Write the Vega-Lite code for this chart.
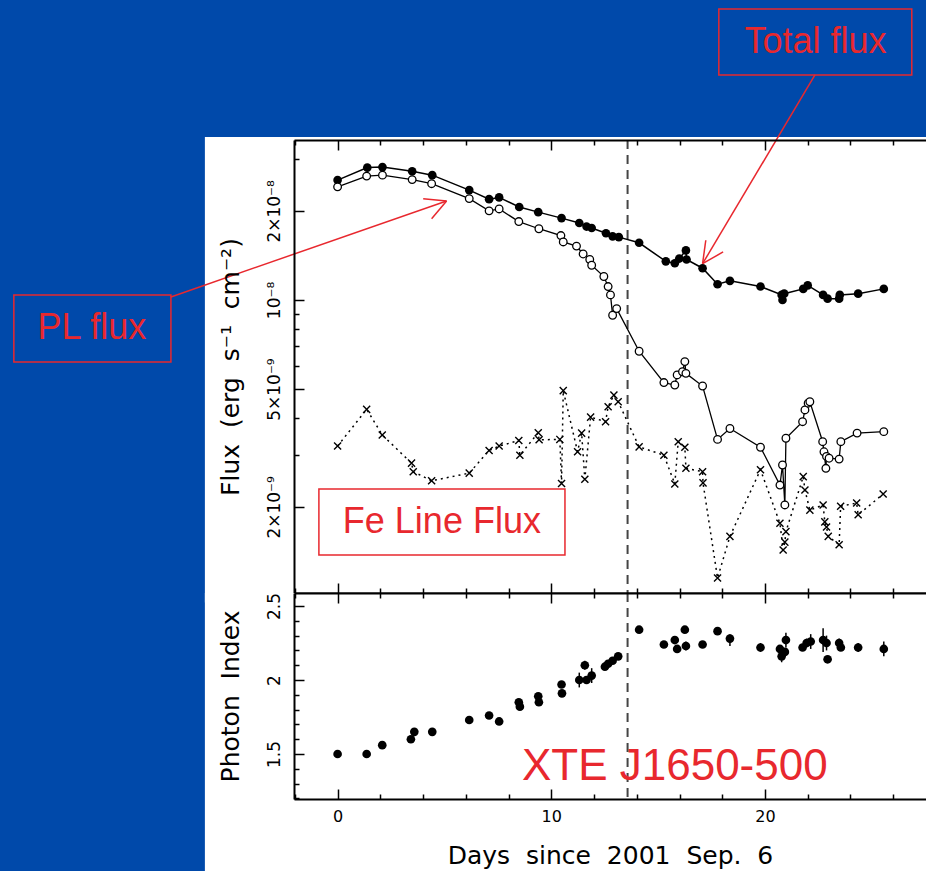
{
  "$schema": "https://vega.github.io/schema/vega-lite/v6.json",
  "background": "#0049AA",
  "padding": {"left": 13, "top": 8, "right": 0, "bottom": 0},
  "autosize": {"type": "pad"},
  "spacing": 0,
  "bounds": "flush",
  "resolve": {"scale": {"x": "independent", "y": "independent"}},
  "datasets": {
    "total_flux": [
      {"day": 0.00, "flux": 2.54e-8}, {"day": 1.39, "flux": 2.80e-8}, {"day": 2.10, "flux": 2.81e-8},
      {"day": 3.49, "flux": 2.72e-8}, {"day": 4.43, "flux": 2.64e-8}, {"day": 6.16, "flux": 2.35e-8},
      {"day": 7.09, "flux": 2.19e-8}, {"day": 7.56, "flux": 2.22e-8}, {"day": 8.50, "flux": 2.06e-8},
      {"day": 9.39, "flux": 1.98e-8}, {"day": 10.48, "flux": 1.89e-8}, {"day": 11.31, "flux": 1.82e-8},
      {"day": 11.65, "flux": 1.77e-8}, {"day": 11.89, "flux": 1.75e-8}, {"day": 12.56, "flux": 1.68e-8},
      {"day": 12.87, "flux": 1.64e-8}, {"day": 13.16, "flux": 1.63e-8}, {"day": 14.11, "flux": 1.56e-8},
      {"day": 15.36, "flux": 1.35e-8}, {"day": 15.78, "flux": 1.33e-8}, {"day": 15.99, "flux": 1.38e-8},
      {"day": 16.30, "flux": 1.47e-8}, {"day": 16.33, "flux": 1.37e-8}, {"day": 17.08, "flux": 1.28e-8},
      {"day": 17.78, "flux": 1.13e-8}, {"day": 18.36, "flux": 1.16e-8}, {"day": 19.79, "flux": 1.11e-8},
      {"day": 20.78, "flux": 1.04e-8}, {"day": 20.82, "flux": 1.00e-8}, {"day": 20.90, "flux": 1.05e-8},
      {"day": 21.79, "flux": 1.09e-8}, {"day": 22.00, "flux": 1.12e-8}, {"day": 22.72, "flux": 1.04e-8},
      {"day": 22.93, "flux": 1.01e-8}, {"day": 23.47, "flux": 1.01e-8}, {"day": 23.50, "flux": 1.04e-8},
      {"day": 24.36, "flux": 1.05e-8}, {"day": 25.56, "flux": 1.09e-8}
    ],
    "pl_flux": [
      {"day": 0.00, "flux": 2.41e-8}, {"day": 1.36, "flux": 2.62e-8}, {"day": 2.10, "flux": 2.64e-8},
      {"day": 3.49, "flux": 2.55e-8}, {"day": 4.40, "flux": 2.47e-8}, {"day": 6.16, "flux": 2.20e-8},
      {"day": 7.09, "flux": 2.00e-8}, {"day": 7.56, "flux": 2.03e-8}, {"day": 8.48, "flux": 1.84e-8},
      {"day": 9.42, "flux": 1.74e-8}, {"day": 10.45, "flux": 1.65e-8}, {"day": 10.56, "flux": 1.57e-8},
      {"day": 11.18, "flux": 1.52e-8}, {"day": 11.49, "flux": 1.43e-8}, {"day": 11.80, "flux": 1.37e-8},
      {"day": 11.89, "flux": 1.31e-8}, {"day": 12.46, "flux": 1.20e-8}, {"day": 12.66, "flux": 1.11e-8},
      {"day": 12.77, "flux": 1.04e-8}, {"day": 12.87, "flux": 8.88e-9}, {"day": 13.06, "flux": 9.35e-9},
      {"day": 14.11, "flux": 6.71e-9}, {"day": 15.27, "flux": 5.26e-9}, {"day": 15.78, "flux": 5.16e-9},
      {"day": 15.89, "flux": 5.58e-9}, {"day": 16.14, "flux": 5.72e-9}, {"day": 16.25, "flux": 6.19e-9},
      {"day": 16.30, "flux": 5.65e-9}, {"day": 17.08, "flux": 5.12e-9}, {"day": 17.78, "flux": 3.38e-9},
      {"day": 18.36, "flux": 3.68e-9}, {"day": 19.79, "flux": 3.18e-9}, {"day": 20.70, "flux": 2.37e-9},
      {"day": 20.82, "flux": 2.77e-9}, {"day": 20.93, "flux": 2.03e-9}, {"day": 20.98, "flux": 3.41e-9},
      {"day": 21.76, "flux": 3.88e-9}, {"day": 21.87, "flux": 4.25e-9}, {"day": 22.02, "flux": 4.48e-9},
      {"day": 22.10, "flux": 4.53e-9}, {"day": 22.70, "flux": 3.32e-9}, {"day": 22.76, "flux": 3.07e-9},
      {"day": 22.85, "flux": 2.70e-9}, {"day": 22.88, "flux": 2.96e-9}, {"day": 23.00, "flux": 2.92e-9},
      {"day": 23.47, "flux": 2.90e-9}, {"day": 23.55, "flux": 3.32e-9}, {"day": 24.31, "flux": 3.55e-9},
      {"day": 25.56, "flux": 3.59e-9}
    ],
    "fe_line_flux": [
      {"day": 0.00, "flux": 3.21e-9}, {"day": 1.36, "flux": 4.27e-9}, {"day": 2.09, "flux": 3.50e-9},
      {"day": 3.46, "flux": 2.81e-9}, {"day": 3.54, "flux": 2.63e-9}, {"day": 4.40, "flux": 2.45e-9},
      {"day": 6.16, "flux": 2.60e-9}, {"day": 7.09, "flux": 3.10e-9}, {"day": 7.56, "flux": 3.21e-9},
      {"day": 8.48, "flux": 3.35e-9}, {"day": 8.53, "flux": 2.99e-9}, {"day": 9.39, "flux": 3.56e-9},
      {"day": 9.43, "flux": 3.37e-9}, {"day": 10.40, "flux": 3.38e-9}, {"day": 10.48, "flux": 2.40e-9},
      {"day": 10.56, "flux": 4.94e-9}, {"day": 11.23, "flux": 3.07e-9}, {"day": 11.42, "flux": 3.55e-9},
      {"day": 11.57, "flux": 2.48e-9}, {"day": 11.84, "flux": 4.02e-9}, {"day": 12.54, "flux": 3.88e-9},
      {"day": 12.66, "flux": 4.36e-9}, {"day": 12.93, "flux": 4.77e-9}, {"day": 13.13, "flux": 4.53e-9},
      {"day": 14.11, "flux": 3.19e-9}, {"day": 15.27, "flux": 2.99e-9}, {"day": 15.78, "flux": 2.39e-9},
      {"day": 15.94, "flux": 3.32e-9}, {"day": 16.25, "flux": 3.18e-9}, {"day": 16.30, "flux": 2.70e-9},
      {"day": 17.08, "flux": 2.63e-9}, {"day": 17.10, "flux": 2.41e-9}, {"day": 17.78, "flux": 1.15e-9},
      {"day": 18.36, "flux": 1.59e-9}, {"day": 19.79, "flux": 2.67e-9}, {"day": 20.70, "flux": 1.76e-9},
      {"day": 20.85, "flux": 1.43e-9}, {"day": 20.93, "flux": 1.52e-9}, {"day": 20.98, "flux": 1.65e-9},
      {"day": 21.79, "flux": 2.53e-9}, {"day": 21.87, "flux": 2.28e-9}, {"day": 22.10, "flux": 1.95e-9},
      {"day": 22.72, "flux": 2.03e-9}, {"day": 22.80, "flux": 1.78e-9}, {"day": 22.88, "flux": 1.71e-9},
      {"day": 22.96, "flux": 1.59e-9}, {"day": 23.47, "flux": 1.49e-9}, {"day": 23.54, "flux": 2.01e-9},
      {"day": 24.29, "flux": 2.06e-9}, {"day": 24.36, "flux": 1.88e-9}, {"day": 25.53, "flux": 2.21e-9}
    ],
    "photon_index": [
      {"day": 0.00, "index": 1.50, "lo": 1.49, "hi": 1.51}, {"day": 1.36, "index": 1.50, "lo": 1.49, "hi": 1.51},
      {"day": 2.09, "index": 1.56, "lo": 1.545, "hi": 1.575}, {"day": 3.43, "index": 1.60, "lo": 1.58, "hi": 1.62},
      {"day": 3.59, "index": 1.65, "lo": 1.63, "hi": 1.67}, {"day": 4.43, "index": 1.65, "lo": 1.64, "hi": 1.66},
      {"day": 6.16, "index": 1.73, "lo": 1.72, "hi": 1.74}, {"day": 7.09, "index": 1.76, "lo": 1.75, "hi": 1.77},
      {"day": 7.56, "index": 1.72, "lo": 1.70, "hi": 1.74}, {"day": 8.48, "index": 1.85, "lo": 1.83, "hi": 1.87},
      {"day": 8.53, "index": 1.82, "lo": 1.81, "hi": 1.83}, {"day": 9.39, "index": 1.89, "lo": 1.87, "hi": 1.91},
      {"day": 9.42, "index": 1.85, "lo": 1.84, "hi": 1.86}, {"day": 10.48, "index": 1.97, "lo": 1.95, "hi": 1.99},
      {"day": 10.50, "index": 1.91, "lo": 1.89, "hi": 1.93}, {"day": 11.31, "index": 2.00, "lo": 1.95, "hi": 2.05},
      {"day": 11.57, "index": 2.10, "lo": 2.07, "hi": 2.13}, {"day": 11.65, "index": 2.00, "lo": 1.98, "hi": 2.02},
      {"day": 11.89, "index": 2.03, "lo": 1.98, "hi": 2.08}, {"day": 12.51, "index": 2.09, "lo": 2.07, "hi": 2.11},
      {"day": 12.66, "index": 2.11, "lo": 2.09, "hi": 2.13}, {"day": 12.87, "index": 2.13, "lo": 2.11, "hi": 2.15},
      {"day": 13.13, "index": 2.16, "lo": 2.14, "hi": 2.18}, {"day": 14.11, "index": 2.34, "lo": 2.33, "hi": 2.35},
      {"day": 15.27, "index": 2.24, "lo": 2.23, "hi": 2.25}, {"day": 15.78, "index": 2.27, "lo": 2.25, "hi": 2.29},
      {"day": 15.89, "index": 2.21, "lo": 2.19, "hi": 2.23}, {"day": 16.25, "index": 2.34, "lo": 2.32, "hi": 2.36},
      {"day": 16.30, "index": 2.23, "lo": 2.20, "hi": 2.26}, {"day": 17.08, "index": 2.24, "lo": 2.22, "hi": 2.26},
      {"day": 17.78, "index": 2.33, "lo": 2.32, "hi": 2.34}, {"day": 18.36, "index": 2.28, "lo": 2.23, "hi": 2.31},
      {"day": 19.79, "index": 2.22, "lo": 2.19, "hi": 2.25}, {"day": 20.70, "index": 2.21, "lo": 2.19, "hi": 2.23},
      {"day": 20.78, "index": 2.16, "lo": 2.12, "hi": 2.20}, {"day": 20.93, "index": 2.19, "lo": 2.17, "hi": 2.21},
      {"day": 20.98, "index": 2.27, "lo": 2.22, "hi": 2.32}, {"day": 21.76, "index": 2.22, "lo": 2.20, "hi": 2.24},
      {"day": 21.95, "index": 2.25, "lo": 2.22, "hi": 2.28}, {"day": 22.14, "index": 2.26, "lo": 2.21, "hi": 2.31},
      {"day": 22.72, "index": 2.27, "lo": 2.19, "hi": 2.35}, {"day": 22.88, "index": 2.25, "lo": 2.20, "hi": 2.30},
      {"day": 22.93, "index": 2.14, "lo": 2.12, "hi": 2.16}, {"day": 23.47, "index": 2.25, "lo": 2.22, "hi": 2.28},
      {"day": 23.55, "index": 2.22, "lo": 2.20, "hi": 2.24}, {"day": 24.36, "index": 2.22, "lo": 2.19, "hi": 2.25},
      {"day": 25.56, "index": 2.21, "lo": 2.16, "hi": 2.26}
    ],
    "arrows": [
      {"day": -7.80, "flux": 1.0236e-8, "day_end": 5.10, "flux_end": 2.16e-8},
      {"day": 4.006, "flux": 2.199e-8, "day_end": 5.10, "flux_end": 2.16e-8},
      {"day": 4.40, "flux": 1.882e-8, "day_end": 5.10, "flux_end": 2.16e-8},
      {"day": 22.34, "flux": 5.754e-8, "day_end": 17.08, "flux_end": 1.326e-8},
      {"day": 17.23, "flux": 1.591e-8, "day_end": 17.08, "flux_end": 1.326e-8},
      {"day": 18.04, "flux": 1.4527e-8, "day_end": 17.08, "flux_end": 1.326e-8}
    ]
  },
  "vconcat": [
    {
      "width": 632,
      "height": 453,
      "resolve": {"axis": {"x": "independent", "y": "independent"}},
      "layer": [
        {
          "data": {"values": [{}]},
          "mark": {"type": "rect", "fill": "white", "clip": false},
          "encoding": {
            "x": {"datum": -6.21, "type": "quantitative", "scale": {"domain": [-2.04, 27.535], "nice": false, "zero": false}, "axis": null},
            "x2": {"datum": 27.535},
            "y": {"datum": 3.553e-8, "type": "quantitative", "scale": {"type": "log", "domain": [1.0235e-9, 3.47e-8], "nice": false}, "axis": null},
            "y2": {"datum": 9.5e-10}
          }
        },
        {
          "data": {"values": [{}]},
          "mark": {"type": "rule", "color": "#444444", "strokeWidth": 2, "strokeDash": [9, 6]},
          "encoding": {"x": {"datum": 13.57, "type": "quantitative", "axis": null}}
        },
        {
          "data": {"values": [{}]},
          "mark": {"type": "rect", "filled": false, "stroke": "#E8282E", "strokeWidth": 1.5, "clip": false},
          "encoding": {
            "x": {"datum": -0.875, "type": "quantitative", "axis": null},
            "x2": {"datum": 10.64},
            "y": {"datum": 2.298e-9, "type": "quantitative", "axis": null},
            "y2": {"datum": 1.375e-9}
          }
        },
        {
          "data": {"values": [{}]},
          "mark": {"type": "text", "text": "Fe Line Flux", "font": "Liberation Sans", "fontSize": 36, "color": "#E8282E", "align": "center", "baseline": "middle", "clip": false},
          "encoding": {
            "x": {"datum": 4.88, "type": "quantitative", "axis": null},
            "y": {"datum": 1.778e-9, "type": "quantitative", "axis": null}
          }
        },
        {
          "data": {"name": "total_flux"},
          "mark": {"type": "line", "color": "black", "strokeWidth": 1.5},
          "encoding": {
            "x": {"field": "day", "type": "quantitative", "scale": {"domain": [-2.04, 27.535], "nice": false, "zero": false},
              "axis": {"orient": "bottom", "zindex": 2, "values": [-2, 0, 2, 4, 6, 8, 10, 12, 14, 16, 18, 20, 22, 24, 26], "labels": false, "title": null,
                "tickSize": {"condition": {"test": "datum.value % 10 === 0", "value": -10}, "value": -5}}},
            "y": {"field": "flux", "type": "quantitative", "scale": {"type": "log", "domain": [1.0235e-9, 3.47e-8], "nice": false},
              "axis": {"orient": "left", "zindex": 2, "values": [2e-9, 3e-9, 4e-9, 5e-9, 6e-9, 7e-9, 8e-9, 9e-9, 1e-8, 2e-8, 3e-8],
                "labelExpr": "datum.value == 2e-9 ? '2×10⁻⁹' : datum.value == 5e-9 ? '5×10⁻⁹' : datum.value == 1e-8 ? '10⁻⁸' : datum.value == 2e-8 ? '2×10⁻⁸' : ''",
                "labelAngle": -90, "labelAlign": "center", "labelBaseline": "bottom", "labelPadding": 21, "labelFontSize": 17,
                "tickSize": {"condition": {"test": "datum.value == 2e-9 || datum.value == 5e-9 || datum.value == 1e-8 || datum.value == 2e-8", "value": -10}, "value": -5},
                "title": "Flux\u00a0\u00a0(erg\u00a0\u00a0s⁻¹\u00a0\u00a0cm⁻²)", "titleAngle": -90, "titleBaseline": "bottom", "titlePadding": 18, "minExtent": 33, "maxExtent": 33}}
          }
        },
        {
          "data": {"name": "pl_flux"},
          "mark": {"type": "line", "color": "black", "strokeWidth": 1.3},
          "encoding": {
            "x": {"field": "day", "type": "quantitative",
              "axis": {"orient": "top", "zindex": 2, "values": [-2, 0, 2, 4, 6, 8, 10, 12, 14, 16, 18, 20, 22, 24, 26], "labels": false, "title": null,
                "tickSize": {"condition": {"test": "datum.value % 10 === 0", "value": -10}, "value": -5}}},
            "y": {"field": "flux", "type": "quantitative", "axis": null}
          }
        },
        {
          "data": {"name": "fe_line_flux"},
          "mark": {"type": "line", "color": "black", "strokeWidth": 1.5, "strokeDash": [2, 4]},
          "encoding": {
            "x": {"field": "day", "type": "quantitative", "axis": null},
            "y": {"field": "flux", "type": "quantitative", "axis": null}
          }
        },
        {
          "data": {"name": "total_flux"},
          "mark": {"type": "point", "shape": "circle", "filled": true, "color": "black", "size": 75, "opacity": 1},
          "encoding": {
            "x": {"field": "day", "type": "quantitative", "axis": null},
            "y": {"field": "flux", "type": "quantitative", "axis": null}
          }
        },
        {
          "data": {"name": "pl_flux"},
          "mark": {"type": "point", "shape": "circle", "filled": true, "fill": "white", "stroke": "black", "strokeWidth": 1.3, "size": 58, "opacity": 1},
          "encoding": {
            "x": {"field": "day", "type": "quantitative", "axis": null},
            "y": {"field": "flux", "type": "quantitative", "axis": null}
          }
        },
        {
          "data": {"name": "fe_line_flux"},
          "mark": {"type": "point", "shape": "M-1,-1L1,1M-1,1L1,-1", "filled": false, "stroke": "black", "strokeWidth": 1.4, "size": 50, "opacity": 1},
          "encoding": {
            "x": {"field": "day", "type": "quantitative", "axis": null},
            "y": {"field": "flux", "type": "quantitative", "axis": null}
          }
        },
        {
          "data": {"values": [{}]},
          "mark": {"type": "rect", "filled": false, "stroke": "#E8282E", "strokeWidth": 1.5, "clip": false},
          "encoding": {
            "x": {"datum": -15.15, "type": "quantitative", "axis": null},
            "x2": {"datum": -7.80},
            "y": {"datum": 1.0397e-8, "type": "quantitative", "axis": null},
            "y2": {"datum": 6.17e-9}
          }
        },
        {
          "data": {"values": [{}]},
          "mark": {"type": "text", "text": "PL flux", "font": "Liberation Sans", "fontSize": 36, "color": "#E8282E", "align": "center", "baseline": "middle", "clip": false},
          "encoding": {
            "x": {"datum": -11.5, "type": "quantitative", "axis": null},
            "y": {"datum": 8.01e-9, "type": "quantitative", "axis": null}
          }
        },
        {
          "data": {"values": [{}]},
          "mark": {"type": "rect", "filled": false, "stroke": "#E8282E", "strokeWidth": 1.5, "clip": false},
          "encoding": {
            "x": {"datum": 17.84, "type": "quantitative", "axis": null},
            "x2": {"datum": 26.87},
            "y": {"datum": 9.62e-8, "type": "quantitative", "axis": null},
            "y2": {"datum": 5.754e-8}
          }
        },
        {
          "data": {"values": [{}]},
          "mark": {"type": "text", "text": "Total flux", "font": "Liberation Sans", "fontSize": 36, "color": "#E8282E", "align": "center", "baseline": "middle", "clip": false},
          "encoding": {
            "x": {"datum": 22.36, "type": "quantitative", "axis": null},
            "y": {"datum": 7.44e-8, "type": "quantitative", "axis": null}
          }
        },
        {
          "data": {"name": "arrows"},
          "mark": {"type": "rule", "color": "#E8282E", "strokeWidth": 1.5, "clip": false},
          "encoding": {
            "x": {"field": "day", "type": "quantitative", "axis": null},
            "x2": {"field": "day_end"},
            "y": {"field": "flux", "type": "quantitative", "axis": null},
            "y2": {"field": "flux_end"}
          }
        }
      ]
    },
    {
      "width": 632,
      "height": 206,
      "resolve": {"axis": {"x": "independent", "y": "independent"}},
      "layer": [
        {
          "data": {"values": [{}]},
          "mark": {"type": "rect", "fill": "white", "clip": false},
          "encoding": {
            "x": {"datum": -6.21, "type": "quantitative", "scale": {"domain": [-2.04, 27.535], "nice": false, "zero": false}, "axis": null},
            "x2": {"datum": 27.535},
            "y": {"datum": 2.588, "type": "quantitative", "scale": {"domain": [1.196, 2.588], "nice": false, "zero": false}, "axis": null},
            "y2": {"datum": 0.7095}
          }
        },
        {
          "data": {"values": [{}]},
          "mark": {"type": "rule", "color": "#444444", "strokeWidth": 2, "strokeDash": [9, 6]},
          "encoding": {"x": {"datum": 13.57, "type": "quantitative", "axis": null}}
        },
        {
          "data": {"name": "photon_index"},
          "mark": {"type": "rule", "color": "black", "strokeWidth": 1.5},
          "encoding": {
            "x": {"field": "day", "type": "quantitative",
              "axis": {"orient": "top", "zindex": 2, "values": [-2, 0, 2, 4, 6, 8, 10, 12, 14, 16, 18, 20, 22, 24, 26], "labels": false, "title": null,
                "tickSize": {"condition": {"test": "datum.value % 10 === 0", "value": -10}, "value": -5}}},
            "y": {"field": "lo", "type": "quantitative", "axis": null},
            "y2": {"field": "hi"}
          }
        },
        {
          "data": {"name": "photon_index"},
          "mark": {"type": "point", "shape": "circle", "filled": true, "color": "black", "size": 75, "opacity": 1},
          "encoding": {
            "x": {"field": "day", "type": "quantitative", "scale": {"domain": [-2.04, 27.535], "nice": false, "zero": false},
              "axis": {"orient": "bottom", "zindex": 2, "values": [-2, 0, 2, 4, 6, 8, 10, 12, 14, 16, 18, 20, 22, 24, 26],
                "labelExpr": "datum.value % 10 === 0 ? '' + datum.value : ''", "labelPadding": 19, "labelBaseline": "top",
                "tickSize": {"condition": {"test": "datum.value % 10 === 0", "value": -10}, "value": -5},
                "title": "Days\u00a0 since\u00a0 2001\u00a0 Sep.\u00a0 6", "titlePadding": 14, "minExtent": 30, "maxExtent": 30}},
            "y": {"field": "index", "type": "quantitative", "scale": {"domain": [1.196, 2.588], "nice": false, "zero": false},
              "axis": {"orient": "left", "zindex": 2, "values": [1.2, 1.3, 1.4, 1.5, 1.6, 1.7, 1.8, 1.9, 2, 2.1, 2.2, 2.3, 2.4, 2.5],
                "labelExpr": "datum.value == 1.5 ? '1.5' : datum.value == 2 ? '2' : datum.value == 2.5 ? '2.5' : ''",
                "labelAngle": -90, "labelAlign": "center", "labelBaseline": "bottom", "labelPadding": 21, "labelFontSize": 17,
                "tickSize": {"condition": {"test": "datum.value == 1.5 || datum.value == 2 || datum.value == 2.5", "value": -10}, "value": -5},
                "title": "Photon\u00a0 Index", "titleAngle": -90, "titleBaseline": "bottom", "titlePadding": 18, "minExtent": 33, "maxExtent": 33}}
          }
        },
        {
          "data": {"values": [{}]},
          "mark": {"type": "text", "text": "XTE J1650-500", "font": "Liberation Sans", "fontSize": 44, "color": "#E8282E", "align": "center", "baseline": "middle", "clip": false},
          "encoding": {
            "x": {"datum": 15.78, "type": "quantitative", "axis": null},
            "y": {"datum": 1.41, "type": "quantitative", "axis": null}
          }
        }
      ]
    }
  ],
  "config": {
    "view": {"stroke": null},
    "axis": {
      "grid": false, "domain": true, "domainColor": "black", "domainWidth": 2,
      "tickColor": "black", "tickWidth": 1.5,
      "labelFont": "DejaVu Sans", "labelFontSize": 16, "labelColor": "black",
      "titleFont": "DejaVu Sans", "titleFontSize": 25, "titleFontWeight": "normal", "titleColor": "black",
      "labelFlush": false, "labelOverlap": false
    }
  }
}
